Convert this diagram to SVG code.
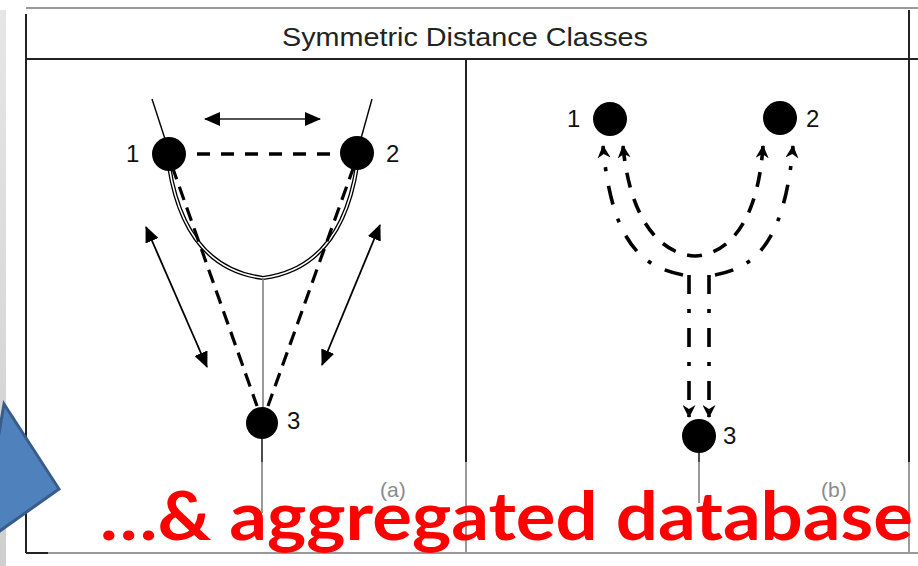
<svg xmlns="http://www.w3.org/2000/svg" width="918" height="566" viewBox="0 0 918 566">
<defs>
<linearGradient id="strip" x1="0" y1="0" x2="0" y2="1">
<stop offset="0" stop-color="#e6e6e6"/>
<stop offset="1" stop-color="#cfcfcf"/>
</linearGradient>
<marker id="tri" viewBox="0 0 16 14" refX="15" refY="7" markerWidth="16" markerHeight="14" markerUnits="userSpaceOnUse" orient="auto-start-reverse">
<path d="M0,0 L16,7 L0,14 z" fill="#000"/>
</marker>
<marker id="barb" viewBox="0 0 13 13" refX="12" refY="6.5" markerWidth="13" markerHeight="13" markerUnits="userSpaceOnUse" orient="auto-start-reverse">
<path d="M0,0 L13,6.5 L0,13 L4,6.5 z" fill="#000"/>
</marker>
</defs>
<style>
.frame{stroke:#222;stroke-width:2;fill:none}
.frameg{stroke:#9a9a9a;stroke-width:2;fill:none}
.thin{stroke:#000;stroke-width:1.4;fill:none}
.gthin{stroke:#777;stroke-width:1.5;fill:none}
.pipeo{stroke:#000;stroke-width:4.2;fill:none}
.pipei{stroke:#fff;stroke-width:1.6;fill:none}
.dash{stroke:#000;stroke-width:3.2;fill:none;stroke-dasharray:14 8}
.dashh{stroke:#000;stroke-width:3.4;fill:none;stroke-dasharray:13 11}
.dd{stroke:#000;stroke-width:3.6;fill:none;stroke-dasharray:19 15 4 15}
.dsh{stroke:#000;stroke-width:3.6;fill:none;stroke-dasharray:15 12}
.arr{stroke:#000;stroke-width:1.8;fill:none;marker-start:url(#tri);marker-end:url(#tri)}
.node{fill:#000}
.lbl{font-family:"Liberation Sans",Arial,sans-serif;font-size:24px;fill:#111}
.tag{font-family:"Liberation Sans",Arial,sans-serif;font-size:21px;fill:#8a8a8a}
</style>
<rect width="918" height="566" fill="#fff"/>
<rect x="0" y="10" width="6" height="556" fill="url(#strip)"/>

<g id="frame">
<line class="frameg" x1="26" y1="8" x2="918" y2="8"/>
<line class="frame" x1="26" y1="59" x2="918" y2="59"/>
<line class="frame" x1="26" y1="14" x2="26" y2="553"/>
<line class="frame" x1="909" y1="10" x2="909" y2="462"/>
<line class="frameg" x1="909" y1="462" x2="909" y2="553"/>
<line class="frame" x1="466" y1="59" x2="466" y2="462"/>
<line class="frameg" x1="466" y1="462" x2="466" y2="553"/>
<line class="frameg" x1="26" y1="553" x2="918" y2="553"/>
<line class="frame" x1="26" y1="553" x2="48" y2="553"/>
<text x="465" y="46" text-anchor="middle" textLength="366" lengthAdjust="spacingAndGlyphs" font-family="Liberation Sans, Arial, sans-serif" font-size="26" fill="#222">Symmetric Distance Classes</text>
<text class="tag" x="380" y="497">(a)</text>
<text class="tag" x="821" y="497">(b)</text>
</g>

<g id="connectors">
<line class="thin" x1="152" y1="99" x2="166" y2="142"/>
<line class="thin" x1="372" y1="99" x2="360" y2="142"/>
<path class="pipeo" d="M169,166 Q185,268 263,278"/>
<path class="pipei" d="M169,166 Q185,268 263,278"/>
<path class="pipeo" d="M357,166 Q341,268 263,278"/>
<path class="pipei" d="M357,166 Q341,268 263,278"/>
<line class="gthin" x1="263" y1="278" x2="263" y2="410"/>
<line class="thin" x1="262" y1="436" x2="262" y2="462"/>
<line class="gthin" x1="262" y1="462" x2="262" y2="513"/>
<line class="dashh" x1="197" y1="154" x2="342" y2="154"/>
<line class="dash" x1="172" y1="166" x2="257" y2="406"/>
<line class="dash" x1="354" y1="166" x2="268" y2="406"/>
<line class="arr" x1="205" y1="119" x2="320" y2="119" style="stroke:#555;stroke-width:2.2"/>
<line class="arr" x1="146" y1="227" x2="207" y2="367"/>
<line class="arr" x1="380" y1="225" x2="322" y2="365"/>
<path class="dd" d="M689,275 L689,417" marker-end="url(#barb)"/>
<path class="dd" d="M709,275 L709,417" marker-end="url(#barb)"/>
<path class="dd" d="M683,275 C648,268 612,250 603,146" marker-end="url(#barb)"/>
<path class="dd" d="M715,275 C750,268 784,250 793,146" marker-end="url(#barb)"/>
<path class="dsh" d="M623,146 C630,220 660,254 695,256 C730,254 758,220 763,146" marker-start="url(#barb)" marker-end="url(#barb)"/>
<line class="thin" x1="699" y1="452" x2="699" y2="462"/>
<line class="gthin" x1="699" y1="462" x2="699" y2="503"/>
</g>

<g id="node-a1"><circle class="node" cx="169" cy="154" r="17"/><text class="lbl" x="126" y="162">1</text></g>
<g id="node-a2"><circle class="node" cx="357" cy="153" r="17"/><text class="lbl" x="386" y="162">2</text></g>
<g id="node-a3"><circle class="node" cx="262" cy="423" r="16"/><text class="lbl" x="287" y="429">3</text></g>
<g id="node-b1"><circle class="node" cx="610" cy="119" r="17"/><text class="lbl" x="567" y="127">1</text></g>
<g id="node-b2"><circle class="node" cx="780" cy="118" r="17"/><text class="lbl" x="806" y="127">2</text></g>
<g id="node-b3"><circle class="node" cx="699" cy="436" r="17"/><text class="lbl" x="723" y="444">3</text></g>

<polygon points="4,404 59,489 -20,545" fill="#4F81BD" stroke="#385D8A" stroke-width="3" stroke-linejoin="miter"/>
<text x="100" y="540" textLength="813" lengthAdjust="spacingAndGlyphs" font-family="Lato, 'Open Sans', sans-serif" font-weight="bold" font-size="67" fill="#FF0000">…&amp; aggregated database</text>
</svg>
